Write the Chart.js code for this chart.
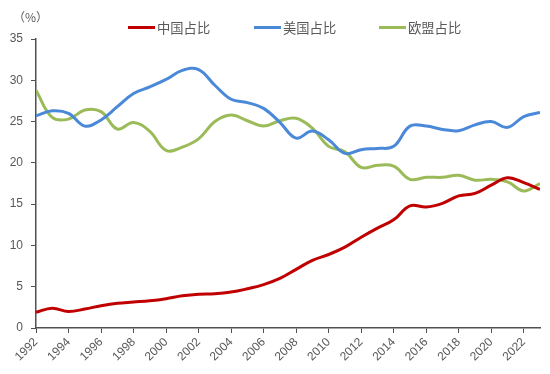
<!DOCTYPE html>
<html>
<head>
<meta charset="utf-8">
<script src="https://cdn.jsdelivr.net/npm/chart.js@4.4.0/dist/chart.umd.min.js"></script>
<style>
html,body{margin:0;padding:0;background:#fff;}
#wrap{width:550px;height:374px;position:relative;}
</style>
</head>
<body>
<div id="wrap"><canvas id="c" width="550" height="374"></canvas></div>
<script>
const years = [1992,1993,1994,1995,1996,1997,1998,1999,2000,2001,2002,2003,2004,2005,2006,2007,2008,2009,2010,2011,2012,2013,2014,2015,2016,2017,2018,2019,2020,2021,2022,2023];
const chinaShare = [1.9,2.4,2.0,2.3,2.7,3.0,3.15,3.3,3.55,3.9,4.1,4.15,4.35,4.75,5.25,6.0,7.1,8.2,8.9,9.8,11.0,12.1,13.1,14.8,14.65,15.1,16.0,16.3,17.3,18.2,17.6,16.8];
const usShare = [25.7,26.3,26.0,24.45,25.2,26.8,28.4,29.2,30.1,31.2,31.3,29.4,27.7,27.3,26.6,24.9,23.0,23.85,22.8,21.15,21.6,21.75,22.0,24.45,24.45,24.05,23.9,24.6,25.0,24.3,25.6,26.1];
const euShare = [28.8,25.5,25.3,26.4,26.2,24.1,24.9,23.8,21.5,21.9,22.9,25.0,25.8,25.1,24.45,25.1,25.4,24.2,22.0,21.35,19.45,19.7,19.6,18.0,18.25,18.25,18.5,17.9,18.0,17.7,16.6,17.5];
const seriesNames = ['中国占比','美国占比','欧盟占比'];
const yTicks = [0,5,10,15,20,25,30,35];
const unitLabel = '（%）';

const toXY = arr => arr.map((v,i)=>({x:years[i], y:v}));
const gray = '#595959';
const axisColor = '#505050';
const cjk = '"Noto Sans CJK SC", sans-serif';

// Legend + unit label drawn on canvas at fixed layout positions
const legendPlugin = {
  id: 'customLegend',
  afterDraw(chart) {
    const ctx = chart.ctx;
    ctx.save();
    ctx.fillStyle = gray;
    ctx.font = '12px ' + cjk;
    ctx.textBaseline = 'middle';
    ctx.textAlign = 'left';
    ctx.fillText(unitLabel, 13, 17);
    const starts = [128, 254, 379];
    ctx.font = '13.3px ' + cjk;
    chart.data.datasets.forEach((ds, i) => {
      const x0 = starts[i], y0 = 27.5;
      ctx.strokeStyle = ds.borderColor;
      ctx.lineWidth = 3;
      ctx.beginPath();
      ctx.moveTo(x0, y0);
      ctx.lineTo(x0 + 27, y0);
      ctx.stroke();
      ctx.fillStyle = gray;
      ctx.fillText(ds.label, x0 + 29, y0);
    });
    ctx.restore();
  }
};

new Chart(document.getElementById('c'), {
  type: 'line',
  data: {
    datasets: [
      {label: seriesNames[0], data: toXY(chinaShare), borderColor:'#C00000', backgroundColor:'#C00000', borderWidth:3, pointRadius:0, tension:0.4},
      {label: seriesNames[1], data: toXY(usShare), borderColor:'#4A88D8', backgroundColor:'#4A88D8', borderWidth:3, pointRadius:0, tension:0.4},
      {label: seriesNames[2], data: toXY(euShare), borderColor:'#9BBB59', backgroundColor:'#9BBB59', borderWidth:3, pointRadius:0, tension:0.4}
    ]
  },
  plugins:[legendPlugin],
  options: {
    responsive:false,
    animation:false,
    layout:{padding:{left:8,right:10,top:39,bottom:4}},
    plugins:{
      tooltip:{enabled:false},
      title:{display:false},
      legend:{display:false}
    },
    scales:{
      x:{
        type:'linear', min:1992, max:2023,
        afterBuildTicks: s => { s.ticks = years.filter(y=>y%2===0 && y<=2022).map(v=>({value:v})); },
        grid:{drawOnChartArea:false, drawTicks:true, tickLength:5, color:axisColor},
        border:{color:axisColor, width:1.5},
        ticks:{color:gray, font:{size:12, family:'"Liberation Sans", Arial, sans-serif'}, maxRotation:45, minRotation:45, padding:2, callback:v=>String(v)},
        afterFit: s => { s.height = 42; }
      },
      y:{
        min:0, max:35,
        afterBuildTicks: s => { s.ticks = yTicks.map(v=>({value:v})); },
        grid:{drawOnChartArea:false, drawTicks:true, tickLength:5, color:axisColor},
        border:{color:axisColor, width:1.5},
        ticks:{color:gray, font:{size:12, family:'"Liberation Sans", Arial, sans-serif'}, padding:8},
        afterFit: s => { s.width = 28; }
      }
    }
  }
});
</script>
</body>
</html>
